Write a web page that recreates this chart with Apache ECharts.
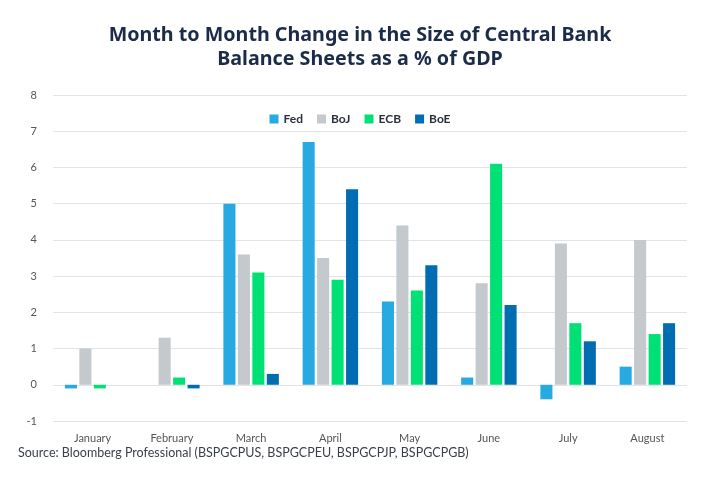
<!DOCTYPE html>
<html>
<head>
<meta charset="utf-8">
<script src="https://cdn.jsdelivr.net/npm/echarts@6/dist/echarts.min.js"></script>
<style>
  html, body { margin: 0; padding: 0; background: #fff; }
  #chart { width: 720px; height: 500px; }
</style>
</head>
<body>
<div id="chart"></div>
<script>
const months = ['January', 'February', 'March', 'April', 'May', 'June', 'July', 'August'];
const fed = [-0.1, 0, 5.0, 6.7, 2.3, 0.2, -0.4, 0.5];
const boj = [1.0, 1.3, 3.6, 3.5, 4.4, 2.8, 3.9, 4.0];
const ecb = [-0.1, 0.2, 3.1, 2.9, 2.6, 6.1, 1.7, 1.4];
const boe = [0, -0.1, 0.3, 5.4, 3.3, 2.2, 1.2, 1.7];

const chart = echarts.init(document.getElementById('chart'), null, { renderer: 'canvas' });

function bar(name, data, color) {
    return {
        name: name,
        type: 'bar',
        data: data,
        barGap: '20%',
        barCategoryGap: '30%',
        itemStyle: { color: color }
    };
}

chart.setOption({
    backgroundColor: '#ffffff',
    textStyle: { fontFamily: 'Lato, "Noto Sans", sans-serif' },
    title: {
        text: 'Month to Month Change in the Size of Central Bank\nBalance Sheets as a % of GDP',
        left: 'center',
        top: 18,
        textStyle: {
            fontFamily: '"Noto Sans", sans-serif',
            fontSize: 19.7,
            fontWeight: 'bold',
            color: '#1b2b48',
            lineHeight: 24
        }
    },
    legend: {
        top: 108,
        left: 'center',
        itemWidth: 9,
        itemHeight: 9,
        itemGap: 14,
        icon: 'rect',
        textStyle: { fontSize: 12, color: '#2a2f3a', fontWeight: 'bold' }
    },
    graphic: [{
        type: 'text',
        left: 18,
        top: 446,
        style: {
            text: 'Source: Bloomberg Professional (BSPGCPUS, BSPGCPEU, BSPGCPJP, BSPGCPGB)',
            fontSize: 12.5,
            fill: '#3a3f4a',
            fontFamily: 'Lato, "Noto Sans", sans-serif'
        }
    }],
    grid: { left: 53, right: 33, top: 95, bottom: 79, containLabel: false },
    xAxis: {
        type: 'category',
        data: months,
        axisLine: { show: false },
        axisTick: { show: false },
        axisLabel: { color: '#555', fontSize: 11, margin: 12 },
        position: 'bottom'
    },
    yAxis: {
        type: 'value',
        min: -1,
        max: 8,
        interval: 1,
        axisLine: { show: false },
        axisTick: { show: false },
        axisLabel: { color: '#555', fontSize: 11, margin: 16 },
        splitLine: { lineStyle: { color: '#e3e3e3', width: 1 } }
    },
    series: [
        bar('Fed', fed, '#27a9e1'),
        bar('BoJ', boj, '#c3c9cc'),
        bar('ECB', ecb, '#00e175'),
        bar('BoE', boe, '#006db3')
    ]
});
</script>
</body>
</html>
